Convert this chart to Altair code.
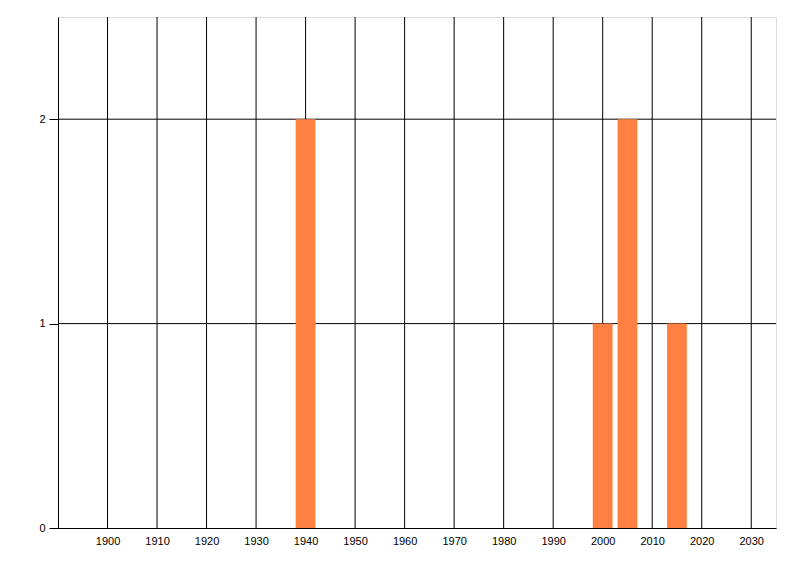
import altair as alt
import pandas as pd

years = [1940, 2000, 2005, 2015]
counts = [2, 1, 2, 1]
x_ticks = list(range(1900, 2031, 10))
y_ticks = [0, 1, 2]

df = pd.DataFrame({"year": years, "count": counts})
xgrid = pd.DataFrame({"x": x_ticks})
ygrid = pd.DataFrame({"y": y_ticks[1:]})

FONT = "Liberation Sans"

xscale = alt.Scale(domain=[1890, 2035], nice=False, zero=False, padding=0)
yscale = alt.Scale(domain=[0, 2.5], nice=False, padding=0)

bars = (
    alt.Chart(df)
    .transform_calculate(x0="datum.year - 2", x1="datum.year + 2")
    .mark_bar(color="#FF8040", orient="vertical")
    .encode(
        x=alt.X(
            "x0:Q",
            scale=xscale,
            axis=alt.Axis(
                values=x_ticks, title=None, ticks=False, grid=False,
                domainColor="black", domainWidth=1,
                labelPadding=7, labelFont=FONT, labelFontSize=11,
                labelColor="black", format="d",
            ),
        ),
        x2="x1:Q",
        y=alt.Y(
            "count:Q",
            scale=yscale,
            axis=alt.Axis(
                values=y_ticks, title=None, ticks=True, tickSize=9,
                tickColor="black", grid=False, domainColor="black",
                domainWidth=1, labelPadding=4, labelFont=FONT,
                labelFontSize=11, labelColor="black", format="d",
            ),
        ),
        y2=alt.datum(0),
    )
)

vgrid = alt.Chart(xgrid).mark_rule(color="black", strokeWidth=1).encode(
    x=alt.X("x:Q", scale=xscale)
)
hgrid = alt.Chart(ygrid).mark_rule(color="black", strokeWidth=1).encode(
    y=alt.Y("y:Q", scale=yscale)
)

chart = (
    alt.layer(vgrid, hgrid, bars)
    .properties(
        width=718,
        height=511,
        padding={"left": 50, "top": 9, "right": 8, "bottom": 28},
        autosize=alt.AutoSizeParams(type="none"),
    )
    .configure_view(stroke="white", strokeWidth=0, fill="white")
    .configure(background="white")
)

chart.save("out.html", embed_options={"renderer": "svg", "actions": False})
